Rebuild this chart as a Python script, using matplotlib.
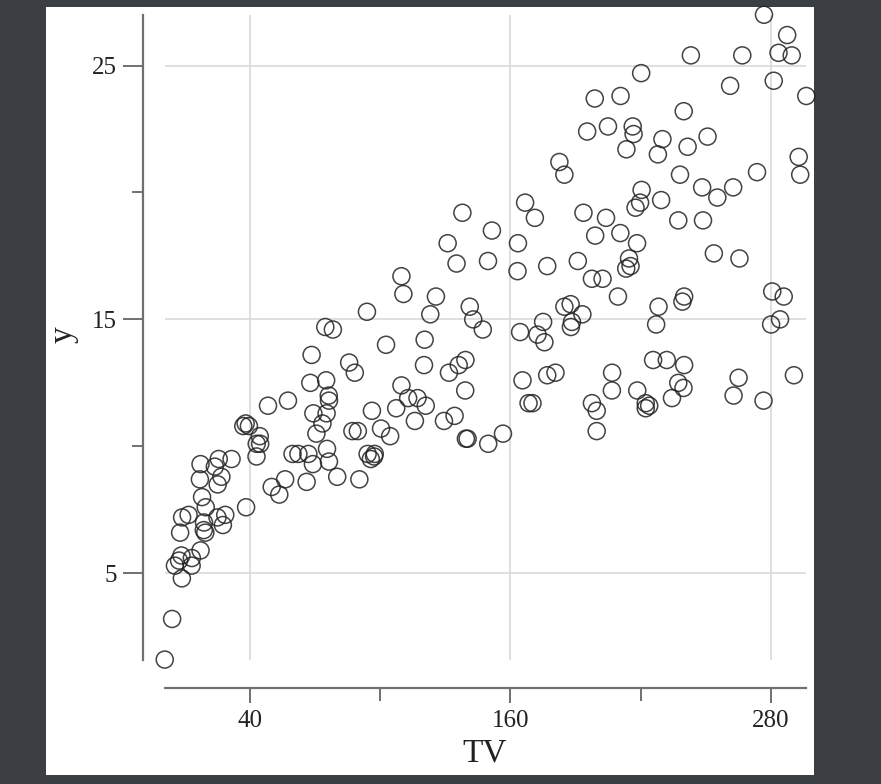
import matplotlib
matplotlib.use("Agg")
import matplotlib.pyplot as plt
import numpy as np

tv = [230.1, 44.5, 17.2, 151.5, 180.8, 8.7, 57.5, 120.2, 8.6, 199.8, 66.1, 214.7, 23.8, 97.5, 204.1, 195.4, 67.8, 281.4, 69.2, 147.3,
      218.4, 237.4, 13.2, 228.3, 62.3, 262.9, 142.9, 240.1, 248.8, 70.6, 292.9, 112.9, 97.2, 265.6, 95.7, 290.7, 266.9, 74.7, 43.1, 228.0,
      202.5, 177.0, 293.6, 206.9, 25.1, 175.1, 89.7, 239.9, 227.2, 66.9, 199.8, 100.4, 216.4, 182.6, 262.7, 198.9, 7.3, 136.2, 210.8, 210.7,
      53.5, 261.3, 239.3, 102.7, 131.1, 69.0, 31.5, 139.3, 237.4, 216.8, 199.1, 109.8, 26.8, 129.4, 213.4, 16.9, 27.5, 120.5, 5.4, 116.0,
      76.4, 239.8, 75.3, 68.4, 213.5, 193.2, 76.3, 110.7, 88.3, 109.8, 134.3, 28.6, 217.7, 250.9, 107.4, 163.3, 197.6, 184.9, 289.7, 135.2,
      222.4, 296.4, 280.2, 187.9, 238.2, 137.9, 25.0, 90.4, 13.1, 255.4, 225.8, 241.7, 175.7, 209.6, 78.2, 75.1, 139.2, 76.4, 125.7, 19.4,
      141.3, 18.8, 224.0, 123.1, 229.5, 87.2, 7.8, 80.2, 220.3, 59.6, 0.7, 265.2, 8.4, 219.8, 36.9, 48.3, 25.6, 273.7, 43.0, 184.9,
      73.4, 193.7, 220.5, 104.6, 96.2, 140.3, 240.1, 243.2, 38.0, 44.7, 280.7, 121.0, 197.6, 171.3, 187.8, 4.1, 93.9, 149.8, 11.7, 131.7,
      172.5, 85.7, 188.4, 163.5, 117.2, 234.5, 17.9, 206.8, 215.4, 284.3, 50.0, 164.5, 19.6, 168.4, 222.4, 276.9, 248.4, 170.2, 276.7, 165.6,
      156.6, 218.5, 56.2, 287.6, 253.8, 205.0, 139.5, 191.1, 286.0, 18.7, 39.5, 75.5, 17.2, 166.8, 149.7, 38.2, 94.2, 177.0, 283.6, 232.1]

sales = [22.1, 10.4, 9.3, 18.5, 12.9, 7.2, 11.8, 13.2, 4.8, 10.6, 8.6, 17.4, 9.2, 9.7, 19.0, 22.4, 12.5, 24.4, 11.3, 14.6,
         18.0, 12.5, 5.6, 15.5, 9.7, 12.0, 15.0, 15.9, 18.9, 10.5, 21.4, 11.9, 9.6, 17.4, 9.5, 12.8, 25.4, 14.7, 10.1, 21.5,
         16.6, 17.1, 20.7, 12.9, 8.5, 14.9, 10.6, 23.2, 14.8, 9.7, 11.4, 10.7, 22.6, 21.2, 20.2, 23.7, 5.5, 13.2, 23.8, 18.4,
         8.1, 24.2, 15.7, 14.0, 18.0, 9.3, 9.5, 13.4, 18.9, 22.3, 18.3, 12.4, 8.8, 11.0, 17.0, 8.7, 6.9, 14.2, 5.3, 11.0,
         11.8, 12.3, 11.3, 13.6, 21.7, 15.2, 12.0, 16.0, 12.9, 16.7, 11.2, 7.3, 19.4, 22.2, 11.5, 16.9, 11.7, 15.5, 25.4, 17.2,
         11.7, 23.8, 14.8, 14.7, 20.7, 19.2, 7.2, 8.7, 5.3, 19.8, 13.4, 21.8, 14.1, 15.9, 14.6, 12.6, 12.2, 9.4, 15.9, 6.6,
         15.5, 7.0, 11.6, 15.2, 19.7, 10.6, 6.6, 8.8, 24.7, 9.7, 1.6, 12.7, 5.7, 19.6, 10.8, 11.6, 9.5, 20.8, 9.6, 20.7,
         10.9, 19.2, 20.1, 10.4, 11.4, 10.3, 13.2, 25.4, 10.9, 10.1, 16.1, 11.6, 16.6, 19.0, 15.6, 3.2, 15.3, 10.1, 7.3, 12.9,
         14.4, 13.3, 14.9, 18.0, 11.9, 11.9, 8.0, 12.2, 17.1, 15.0, 8.4, 14.5, 7.6, 11.7, 11.5, 27.0, 20.2, 11.7, 11.8, 12.6,
         10.5, 12.2, 8.7, 26.2, 17.6, 22.6, 10.3, 17.3, 15.9, 6.7, 10.8, 9.9, 5.9, 19.6, 17.3, 7.6, 9.7, 12.8, 25.5, 13.4]

x_major = [40, 160, 280]
x_minor = [100, 220]
y_major = [5, 15, 25]
y_minor = [10, 20]

W, H = 881, 784
plt.rcParams['font.family'] = ['Liberation Serif', 'DejaVu Serif']
fig = plt.figure(figsize=(W / 100, H / 100), dpi=100, facecolor='#3b3e42')

# white panel behind the chart
bg = fig.add_axes([46 / W, 1 - 775 / H, (814 - 46) / W, (775 - 7) / H], zorder=-5)
bg.set_facecolor('white')
bg.set_xticks([])
bg.set_yticks([])
for s in bg.spines.values():
    s.set_visible(False)

ax_l, ax_r, ax_t, ax_b = 143, 814, 8, 688
ax = fig.add_axes([ax_l / W, 1 - ax_b / H, (ax_r - ax_l) / W, (ax_b - ax_t) / H], zorder=1)
ax.set_facecolor('none')

xpx = 520.7 / 240.0
ypx = 253.8 / 10.0
ax.set_xlim(40 - (250 - ax_l) / xpx, 40 + (ax_r - 250) / xpx)
ax.set_ylim(5 - (ax_b - 573.3) / ypx, 25 + (65.5 - ax_t) / ypx)

xmin, xmax = min(tv), max(tv)
ymin, ymax = min(sales), max(sales)

grid_c = '#d9d9d9'
ax.vlines(x_major, ymin, ymax, colors=grid_c, linewidth=1.2, zorder=1)
ax.hlines(y_major, xmin, xmax, colors=grid_c, linewidth=1.2, zorder=1)

ax.scatter(tv, sales, s=150, facecolors='none', edgecolors='#222222', linewidths=1.1, alpha=0.85, zorder=3,
           clip_on=False)

for side in ['top', 'right']:
    ax.spines[side].set_visible(False)
spine_c = '#707070'
ax.spines['left'].set_bounds(ymin, ymax)
ax.spines['bottom'].set_bounds(xmin, xmax)
for side in ['left', 'bottom']:
    ax.spines[side].set_color(spine_c)
    ax.spines[side].set_linewidth(1.6)

ax.set_xticks(x_major)
ax.set_xticks(x_minor, minor=True)
ax.set_yticks(y_major)
ax.set_yticks(y_minor, minor=True)
ax.tick_params(axis='y', which='major', length=14.5, width=1.4, color=spine_c, labelsize=18, pad=4, labelcolor='#222222')
ax.tick_params(axis='y', which='minor', length=8, width=1.4, color=spine_c)
ax.tick_params(axis='x', which='major', length=11, width=1.4, color=spine_c, labelsize=18, pad=5, labelcolor='#222222')
ax.tick_params(axis='x', which='minor', length=9, width=1.4, color=spine_c)

ax.set_xlabel('TV', fontsize=24, color='#222222')
ax.set_ylabel('y', fontsize=24, color='#222222')
ax.xaxis.set_label_coords((485 - ax_l) / (ax_r - ax_l), 1 - (753 - ax_t) / (ax_b - ax_t))
ax.yaxis.set_label_coords((63 - ax_l) / (ax_r - ax_l), 1 - (335 - ax_t) / (ax_b - ax_t))
ax.xaxis.label.set_va('center')
ax.yaxis.label.set_va('center')

fig.savefig('out.png', dpi=100, facecolor=fig.get_facecolor())
